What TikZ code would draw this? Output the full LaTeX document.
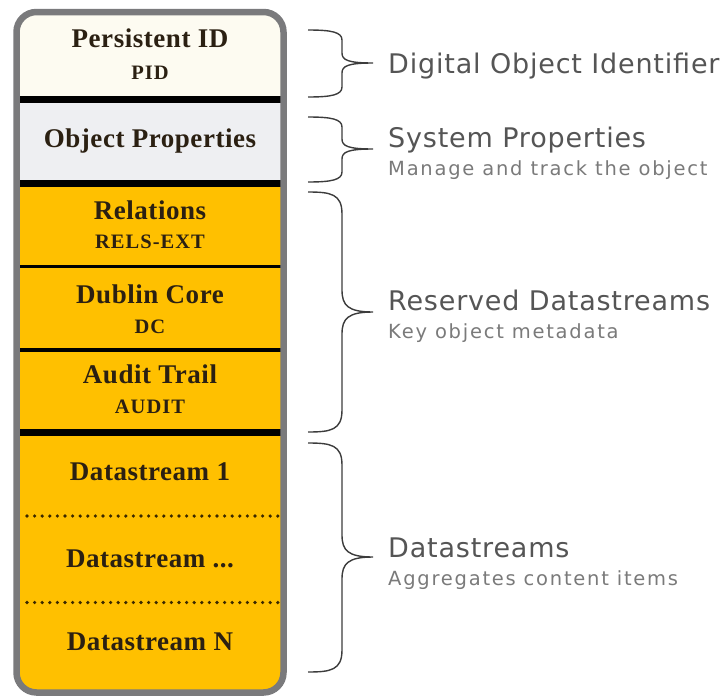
\documentclass[tikz,border=0pt]{standalone}
\usepackage{fontspec}
\setmainfont{Liberation Serif}
\newfontfamily\boxbig[LetterSpace=2]{Liberation Serif}
\newfontfamily\boxsmall[LetterSpace=5]{Liberation Serif}
\newfontfamily\labA[LetterSpace=3]{DejaVu Sans}
\newfontfamily\labB[LetterSpace=9]{DejaVu Sans}
\definecolor{cream}{HTML}{FDFBF1}
\definecolor{lightgr}{HTML}{EEEFF2}
\definecolor{orng}{HTML}{FFC000}
\definecolor{frame}{HTML}{7A7A7C}
\definecolor{txt}{HTML}{2B2012}
\definecolor{dotc}{HTML}{3A2800}
\definecolor{labgray}{HTML}{555555}
\definecolor{labgray2}{HTML}{7A7A7A}
\definecolor{bracegray}{HTML}{3C3C3C}
\tikzset{
  big/.style={font=\boxbig\bfseries\fontsize{27}{30}\selectfont, text=txt, anchor=base, inner sep=0pt},
  small/.style={font=\boxsmall\bfseries\fontsize{20.5}{24}\selectfont, text=txt, anchor=base, inner sep=0pt},
  labone/.style={font=\labA\fontsize{27}{30}\selectfont, text=labgray, anchor=base west, inner sep=0pt},
  labtwo/.style={font=\labB\fontsize{19.5}{22}\selectfont, text=labgray2, anchor=base west, inner sep=0pt},
  bracepath/.style={draw=bracegray, line width=1.4pt},
  thicksep/.style={draw=black, line width=6.5pt},
  thinsep/.style={draw=black, line width=2.5pt},
  midsep/.style={draw=black, line width=3.5pt},
  dotline/.style={draw=dotc, line width=3.6pt, line cap=round, dash pattern=on 0pt off 7.6pt},
  frameline/.style={draw=frame, line width=6.5pt, rounded corners=20pt}
}
\newcommand\mybrace[5]{% name, top, tip, bottom, curl
  \coordinate (#1-top) at (308,#2);
  \coordinate (#1-tip) at (373,#3);
  \coordinate (#1-bot) at (308,#4);
  \draw[bracepath] (#1-top) .. controls (331,#2) and (342,{#2+2}) .. (342,{#2+#5})
    -- (342,{#3-#5}) .. controls (342,{#3-0.3*#5}) and (348,#3) .. (#1-tip)
    .. controls (348,#3) and (342,{#3+0.3*#5}) .. (342,{#3+#5})
    -- (342,{#4-#5}) .. controls (342,{#4-2}) and (331,#4) .. (#1-bot);
}
\begin{document}
\begin{tikzpicture}[x=1pt,y=-1pt]
\useasboundingbox (0,0) rectangle (728,699);
% fills
\begin{scope}
  \clip[rounded corners=20pt] (16.5,12) rectangle (283.5,692.5);
  \fill[cream] (0,0) rectangle (300,99.5);
  \fill[lightgr] (0,99.5) rectangle (300,183.5);
  \fill[orng] (0,183.5) rectangle (300,699);
\end{scope}
% separators
\draw[thicksep] (17,99.5) -- (283,99.5);
\draw[thicksep] (17,183.5) -- (283,183.5);
\draw[thinsep] (17,266.5) -- (283,266.5);
\draw[midsep] (17,350) -- (283,350);
\draw[thicksep] (17,432.5) -- (283,432.5);
\draw[dotline] (27,516) -- (278,516);
\draw[dotline] (27,602.5) -- (278,602.5);
% frame
\draw[frameline] (16.5,12) rectangle (283.5,692.5);
% box texts
\node[big] (pidt) at (150,47) {Persistent ID};
\node[small] (pids) at (150,79) {PID};
\node[big] (prop) at (150,147) {Object Properties};
\node[big] (rel) at (150,219) {Relations};
\node[small] (rels) at (150,248) {RELS-EXT};
\node[big] (dc) at (150,303) {Dublin Core};
\node[small] (dcs) at (150,333) {DC};
\node[big] (aud) at (150,383) {Audit Trail};
\node[small] (auds) at (150,413) {AUDIT};
\node[big] (ds1) at (150,480) {Datastream 1};
\node[big] (dsm) at (150,567) {Datastream ...};
\node[big] (dsn) at (150,650) {Datastream N};
% braces
\mybrace{b1}{30}{63}{97}{10}
\mybrace{b2}{117}{149}{182}{10}
\mybrace{b3}{192}{312}{432}{22}
\mybrace{b4}{443}{557}{672}{22}
% labels
\node[labone] (l1) at (388,73.5) {Digital Object Identifier};
\node[labone] (l2) at (388,147) {System Properties};
\node[labtwo] (l2s) at (388,175) {Manage and track the object};
\node[labone] (l3) at (388,310) {Reserved Datastreams};
\node[labtwo] (l3s) at (388,338) {Key object metadata};
\node[labone] (l4) at (388,557) {Datastreams};
\node[labtwo] (l4s) at (388,585) {Aggregates content items};
\end{tikzpicture}
\end{document}
